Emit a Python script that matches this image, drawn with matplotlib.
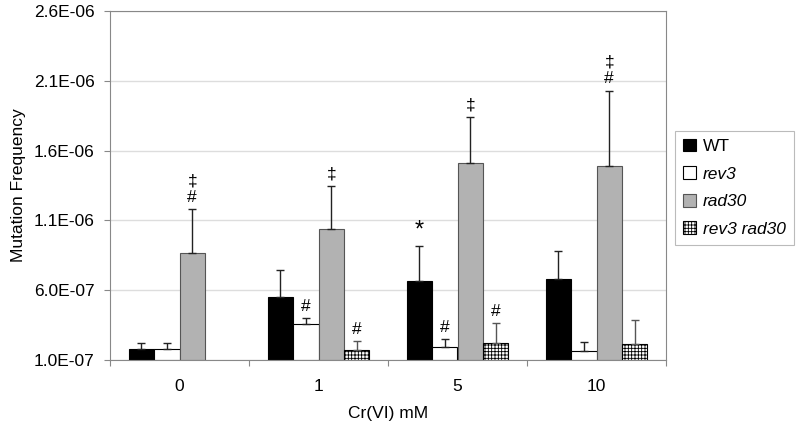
import numpy as np
import matplotlib
matplotlib.use("Agg")
import matplotlib.pyplot as plt
from matplotlib.ticker import FuncFormatter, FixedLocator

plt.rcParams['font.family'] = ['Liberation Sans', 'DejaVu Sans']
plt.rcParams['hatch.linewidth'] = 0.6

# data
doses = ['0', '1', '5', '10']
series = ['WT', 'rev3', 'rad30', 'rev3 rad30']
wt = [1.79e-7, 5.52e-7, 6.66e-7, 6.79e-7]
wt_err = [0.40e-7, 1.96e-7, 2.50e-7, 2.02e-7]
rev3 = [1.80e-7, 3.57e-7, 1.95e-7, 1.64e-7]
rev3_err = [0.40e-7, 0.45e-7, 0.53e-7, 0.62e-7]
rad30 = [8.70e-7, 1.04e-6, 1.51e-6, 1.49e-6]
rad30_err = [3.10e-7, 3.10e-7, 3.30e-7, 5.40e-7]
rev3rad30 = [np.nan, 1.71e-7, 2.19e-7, 2.14e-7]
rev3rad30_err = [np.nan, 0.65e-7, 1.43e-7, 1.76e-7]

# significance marks: (dose index, series index) -> text
marks = {(0, 2): '\u2021\n#', (1, 1): '#', (1, 2): '\u2021', (1, 3): '#',
         (2, 0): '*', (2, 1): '#', (2, 2): '\u2021', (2, 3): '#',
         (3, 2): '\u2021\n#'}

values = [wt, rev3, rad30, rev3rad30]
errors = [wt_err, rev3_err, rad30_err, rev3rad30_err]
styles = [dict(color='black', edgecolor='black'),
          dict(color='white', edgecolor='black'),
          dict(color='#b2b2b2', edgecolor='#555555'),
          dict(color='white', edgecolor='black', hatch='+++++')]
err_colors = ['#222222', '#222222', '#222222', '#555555']

base = 1.0e-7
fs = 12.5
fig = plt.figure(figsize=(8, 4.32), dpi=100)
ax = fig.add_axes([0.1375, 0.1667, 0.6950, 0.8078])

x = np.arange(len(doses))
width = 0.183
for k, name in enumerate(series):
    pos = x + (k - 1.5) * width
    vals = np.array(values[k])
    errs = np.array(errors[k])
    ax.bar(pos, vals - base, width, bottom=base, linewidth=0.8,
           label=name, zorder=2, **styles[k])
    ax.errorbar(pos, vals, yerr=[np.zeros_like(errs), errs], fmt='none',
                ecolor=err_colors[k], elinewidth=1, capsize=3, capthick=1,
                zorder=3)
    for i in range(len(doses)):
        if (i, k) in marks:
            txt = marks[(i, k)]
            ax.annotate(txt, (pos[i], vals[i] + errs[i]),
                        xytext=(0, 3), textcoords='offset points',
                        ha='center', va='bottom',
                        fontsize=17 if txt == '*' else 12.5,
                        linespacing=1.15)

ax.set_ylim(1.0e-7, 2.6e-6)
ax.set_yticks(np.arange(1.0e-7, 2.61e-6, 5e-7))
ax.yaxis.set_major_formatter(FuncFormatter(lambda v, p: f"{v:.1E}"))
ax.set_xlim(-0.5, 3.5)
ax.xaxis.set_major_locator(FixedLocator(np.arange(-0.5, 3.6, 1)))
ax.xaxis.set_minor_locator(FixedLocator(x))
ax.set_xticklabels([])
ax.set_xticklabels(doses, minor=True)
ax.tick_params(axis='x', which='minor', length=0, pad=14, labelsize=fs)
ax.tick_params(axis='x', which='major', length=4, color='#888888')
ax.tick_params(axis='y', length=4, pad=7, color='#888888', labelsize=fs)
ax.grid(axis='y', color='#dddddd', linewidth=1, zorder=0)
ax.set_axisbelow(True)
for s in ax.spines.values():
    s.set_color('#888888')

ax.set_xlabel('Cr(VI) mM', fontsize=fs, labelpad=8)
ax.set_ylabel('Mutation Frequency', fontsize=fs, labelpad=6)

leg = ax.legend(loc='upper left', bbox_to_anchor=(0.844, 0.697),
                bbox_transform=fig.transFigure, fancybox=False,
                edgecolor='#aaaaaa', fontsize=fs, handlelength=0.75,
                handleheight=0.75, handletextpad=0.4, labelspacing=0.7,
                borderpad=0.45, borderaxespad=0)
leg.get_frame().set_linewidth(0.8)
for t in leg.get_texts()[1:]:
    t.set_style('italic')

fig.savefig('out.png', dpi=100)
